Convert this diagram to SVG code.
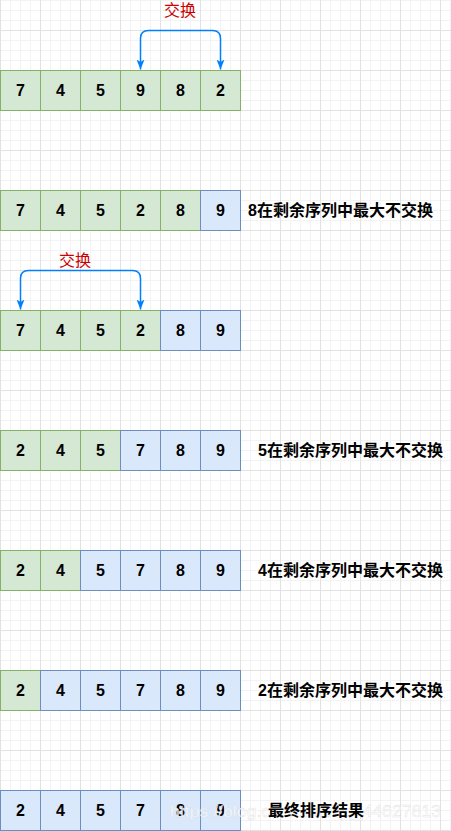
<svg xmlns="http://www.w3.org/2000/svg" width="451" height="831" viewBox="0 0 451 831">
<style>
.g{fill:#d5e8d4;stroke:#82b366;stroke-width:1}
.b{fill:#dae8fc;stroke:#6c8ebf;stroke-width:1}
.n{font-family:"Liberation Sans",Arial,sans-serif;font-size:16px;font-weight:bold;fill:#000;text-anchor:middle}
.lbl{font-family:"Liberation Sans","Noto Sans CJK SC",sans-serif;font-size:16px;font-weight:bold;fill:#000}
.sw{font-family:"Liberation Sans","Noto Sans CJK SC",sans-serif;font-size:16px;fill:#cc0000;text-anchor:middle}
.arr{fill:none;stroke:#007fff;stroke-width:1.5;marker-start:url(#ah);marker-end:url(#ah)}
.wm{font-family:"Liberation Sans",Arial,sans-serif;font-size:17px;fill:#ffffff;fill-opacity:0.85;stroke:#c8c8c8;stroke-width:0.4;stroke-opacity:0.6}
</style>
<defs>
<pattern id="minor" width="10" height="10" patternUnits="userSpaceOnUse" x="0" y="0">
<path d="M0.5 0V10M0 0.5H10" stroke="#f3f3f3" stroke-width="1" fill="none"/>
</pattern>
<pattern id="major" width="40" height="40" patternUnits="userSpaceOnUse" x="0" y="30">
<path d="M0.5 0V40M0 0.5H40" stroke="#e2e2e2" stroke-width="1" fill="none"/>
</pattern>
<marker id="ah" markerUnits="userSpaceOnUse" markerWidth="10" markerHeight="10" viewBox="0 0 10 10" refX="10" refY="5" orient="auto-start-reverse">
<path d="M0,1 L10,5 L0,9 L2.5,5 z" fill="#007fff"/>
</marker>
</defs>
<rect width="451" height="831" fill="#ffffff"/>
<rect width="451" height="831" fill="url(#minor)"/>
<rect width="451" height="831" fill="url(#major)"/>

<g id="connectors">
<path class="arr" d="M140.5,69.5 V38.5 Q140.5,30.5 148.5,30.5 H212.5 Q220.5,30.5 220.5,38.5 V69.5"/>
<path class="arr" d="M20.5,309.5 V278.5 Q20.5,270.5 28.5,270.5 H132.5 Q140.5,270.5 140.5,278.5 V309.5"/>
</g>

<g id="swap1"><text class="sw" x="180" y="16">交换</text></g>
<g id="swap2"><text class="sw" x="75" y="266">交换</text></g>

<g id="row1">
<rect class="g" x="0.5" y="70.5" width="40" height="40"/><text class="n" x="20.5" y="96">7</text>
<rect class="g" x="40.5" y="70.5" width="40" height="40"/><text class="n" x="60.5" y="96">4</text>
<rect class="g" x="80.5" y="70.5" width="40" height="40"/><text class="n" x="100.5" y="96">5</text>
<rect class="g" x="120.5" y="70.5" width="40" height="40"/><text class="n" x="140.5" y="96">9</text>
<rect class="g" x="160.5" y="70.5" width="40" height="40"/><text class="n" x="180.5" y="96">8</text>
<rect class="g" x="200.5" y="70.5" width="40" height="40"/><text class="n" x="220.5" y="96">2</text>
</g>

<g id="row2">
<rect class="g" x="0.5" y="190.5" width="40" height="40"/><text class="n" x="20.5" y="216">7</text>
<rect class="g" x="40.5" y="190.5" width="40" height="40"/><text class="n" x="60.5" y="216">4</text>
<rect class="g" x="80.5" y="190.5" width="40" height="40"/><text class="n" x="100.5" y="216">5</text>
<rect class="g" x="120.5" y="190.5" width="40" height="40"/><text class="n" x="140.5" y="216">2</text>
<rect class="g" x="160.5" y="190.5" width="40" height="40"/><text class="n" x="180.5" y="216">8</text>
<rect class="b" x="200.5" y="190.5" width="40" height="40"/><text class="n" x="220.5" y="216">9</text>
<text class="lbl" x="248" y="216">8在剩余序列中最大不交换</text>
</g>

<g id="row3">
<rect class="g" x="0.5" y="310.5" width="40" height="40"/><text class="n" x="20.5" y="336">7</text>
<rect class="g" x="40.5" y="310.5" width="40" height="40"/><text class="n" x="60.5" y="336">4</text>
<rect class="g" x="80.5" y="310.5" width="40" height="40"/><text class="n" x="100.5" y="336">5</text>
<rect class="g" x="120.5" y="310.5" width="40" height="40"/><text class="n" x="140.5" y="336">2</text>
<rect class="b" x="160.5" y="310.5" width="40" height="40"/><text class="n" x="180.5" y="336">8</text>
<rect class="b" x="200.5" y="310.5" width="40" height="40"/><text class="n" x="220.5" y="336">9</text>
</g>

<g id="row4">
<rect class="g" x="0.5" y="430.5" width="40" height="40"/><text class="n" x="20.5" y="456">2</text>
<rect class="g" x="40.5" y="430.5" width="40" height="40"/><text class="n" x="60.5" y="456">4</text>
<rect class="g" x="80.5" y="430.5" width="40" height="40"/><text class="n" x="100.5" y="456">5</text>
<rect class="b" x="120.5" y="430.5" width="40" height="40"/><text class="n" x="140.5" y="456">7</text>
<rect class="b" x="160.5" y="430.5" width="40" height="40"/><text class="n" x="180.5" y="456">8</text>
<rect class="b" x="200.5" y="430.5" width="40" height="40"/><text class="n" x="220.5" y="456">9</text>
<text class="lbl" x="258" y="456">5在剩余序列中最大不交换</text>
</g>

<g id="row5">
<rect class="g" x="0.5" y="550.5" width="40" height="40"/><text class="n" x="20.5" y="576">2</text>
<rect class="g" x="40.5" y="550.5" width="40" height="40"/><text class="n" x="60.5" y="576">4</text>
<rect class="b" x="80.5" y="550.5" width="40" height="40"/><text class="n" x="100.5" y="576">5</text>
<rect class="b" x="120.5" y="550.5" width="40" height="40"/><text class="n" x="140.5" y="576">7</text>
<rect class="b" x="160.5" y="550.5" width="40" height="40"/><text class="n" x="180.5" y="576">8</text>
<rect class="b" x="200.5" y="550.5" width="40" height="40"/><text class="n" x="220.5" y="576">9</text>
<text class="lbl" x="258" y="576">4在剩余序列中最大不交换</text>
</g>

<g id="row6">
<rect class="g" x="0.5" y="670.5" width="40" height="40"/><text class="n" x="20.5" y="696">2</text>
<rect class="b" x="40.5" y="670.5" width="40" height="40"/><text class="n" x="60.5" y="696">4</text>
<rect class="b" x="80.5" y="670.5" width="40" height="40"/><text class="n" x="100.5" y="696">5</text>
<rect class="b" x="120.5" y="670.5" width="40" height="40"/><text class="n" x="140.5" y="696">7</text>
<rect class="b" x="160.5" y="670.5" width="40" height="40"/><text class="n" x="180.5" y="696">8</text>
<rect class="b" x="200.5" y="670.5" width="40" height="40"/><text class="n" x="220.5" y="696">9</text>
<text class="lbl" x="258" y="696">2在剩余序列中最大不交换</text>
</g>

<g id="row7">
<rect class="b" x="0.5" y="790.5" width="40" height="40"/><text class="n" x="20.5" y="816">2</text>
<rect class="b" x="40.5" y="790.5" width="40" height="40"/><text class="n" x="60.5" y="816">4</text>
<rect class="b" x="80.5" y="790.5" width="40" height="40"/><text class="n" x="100.5" y="816">5</text>
<rect class="b" x="120.5" y="790.5" width="40" height="40"/><text class="n" x="140.5" y="816">7</text>
<rect class="b" x="160.5" y="790.5" width="40" height="40"/><text class="n" x="180.5" y="816">8</text>
<rect class="b" x="200.5" y="790.5" width="40" height="40"/><text class="n" x="220.5" y="816">9</text>
</g>

<g id="watermark"><text class="wm" x="170" y="817" textLength="271" lengthAdjust="spacingAndGlyphs">https://blog.csdn.net/qq_44627813</text></g>

<g id="result"><text class="lbl" x="268" y="816">最终排序结果</text></g>
</svg>
